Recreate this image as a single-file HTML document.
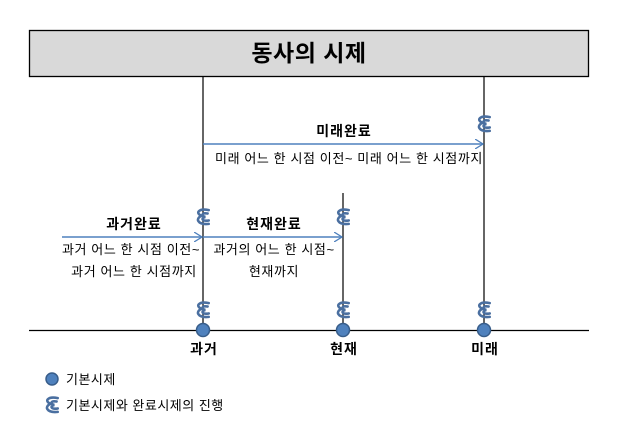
<!DOCTYPE html>
<html><head><meta charset="utf-8"><style>
html,body{margin:0;padding:0;background:#fff;}
svg{display:block;font-family:"Liberation Sans","Noto Sans CJK KR",sans-serif;}
</style></head><body>
<svg width="619" height="435" viewBox="0 0 619 435" xmlns="http://www.w3.org/2000/svg">
<defs>
<g id="sp" fill="none" stroke="#4a6fa0" stroke-width="2.2" stroke-linecap="round" transform="scale(1.15)">
<path d="M5,-6 C-4,-8 -7,-3 -1,-1 C-7,1 -5,7 5,6"/>
<path d="M4,-3 C-1,-4 -2,-1 2,0 C-2,1 -1,4 5,3"/>
</g>
<marker id="ah" markerWidth="10" markerHeight="10" refX="8" refY="5" orient="auto" markerUnits="userSpaceOnUse">
<path d="M0,0 L8,5 L0,10" fill="none" stroke="#4f81bd" stroke-width="1.3"/>
</marker>
</defs>
<rect x="29.5" y="30.5" width="559" height="46" fill="#d9d9d9" stroke="#000" stroke-width="1.3"/>
<text x="309" y="61" font-size="23" font-weight="bold" text-anchor="middle" letter-spacing="0.5">동사의 시제</text>
<g stroke="#000" stroke-width="1.2">
<line x1="203" y1="77" x2="203" y2="330"/>
<line x1="343" y1="193" x2="343" y2="330"/>
<line x1="484" y1="77" x2="484" y2="330"/>
<line x1="29" y1="330.5" x2="589" y2="330.5"/>
</g>
<g stroke="#4f81bd" stroke-width="1.5" marker-end="url(#ah)">
<line x1="203" y1="144" x2="483" y2="144"/>
<line x1="62" y1="237" x2="202" y2="237"/>
<line x1="203" y1="237" x2="342" y2="237"/>
</g>
<use href="#sp" x="484" y="124"/>
<use href="#sp" x="203" y="217"/>
<use href="#sp" x="343" y="217"/>
<use href="#sp" x="203" y="310"/>
<use href="#sp" x="343" y="310"/>
<use href="#sp" x="484" y="310"/>
<g fill="#4f81bd" stroke="#385d8a" stroke-width="1.5">
<circle cx="203" cy="330" r="6.5"/>
<circle cx="343" cy="330" r="6.5"/>
<circle cx="484" cy="330" r="6.5"/>
<circle cx="52" cy="379" r="6"/>
</g>
<use href="#sp" x="52" y="405"/>
<g font-size="14" font-weight="bold" text-anchor="middle" letter-spacing="1">
<text x="344" y="136">미래완료</text>
<text x="134" y="229">과거완료</text>
<text x="274" y="229">현재완료</text>
<text x="204" y="354">과거</text>
<text x="344" y="354">현재</text>
<text x="485" y="354">미래</text>
</g>
<g font-size="13" text-anchor="middle" letter-spacing="0.6">
<text x="349" y="163">미래 어느 한 시점 이전~ 미래 어느 한 시점까지</text>
<text x="131" y="254">과거 어느 한 시점 이전~</text>
<text x="134" y="276">과거 어느 한 시점까지</text>
<text x="274" y="254">과거의 어느 한 시점~</text>
<text x="274" y="276">현재까지</text>
</g>
<g font-size="13" letter-spacing="0.5">
<text x="66" y="384">기본시제</text>
<text x="66" y="410">기본시제와 완료시제의 진행</text>
</g>
</svg>
</body></html>
